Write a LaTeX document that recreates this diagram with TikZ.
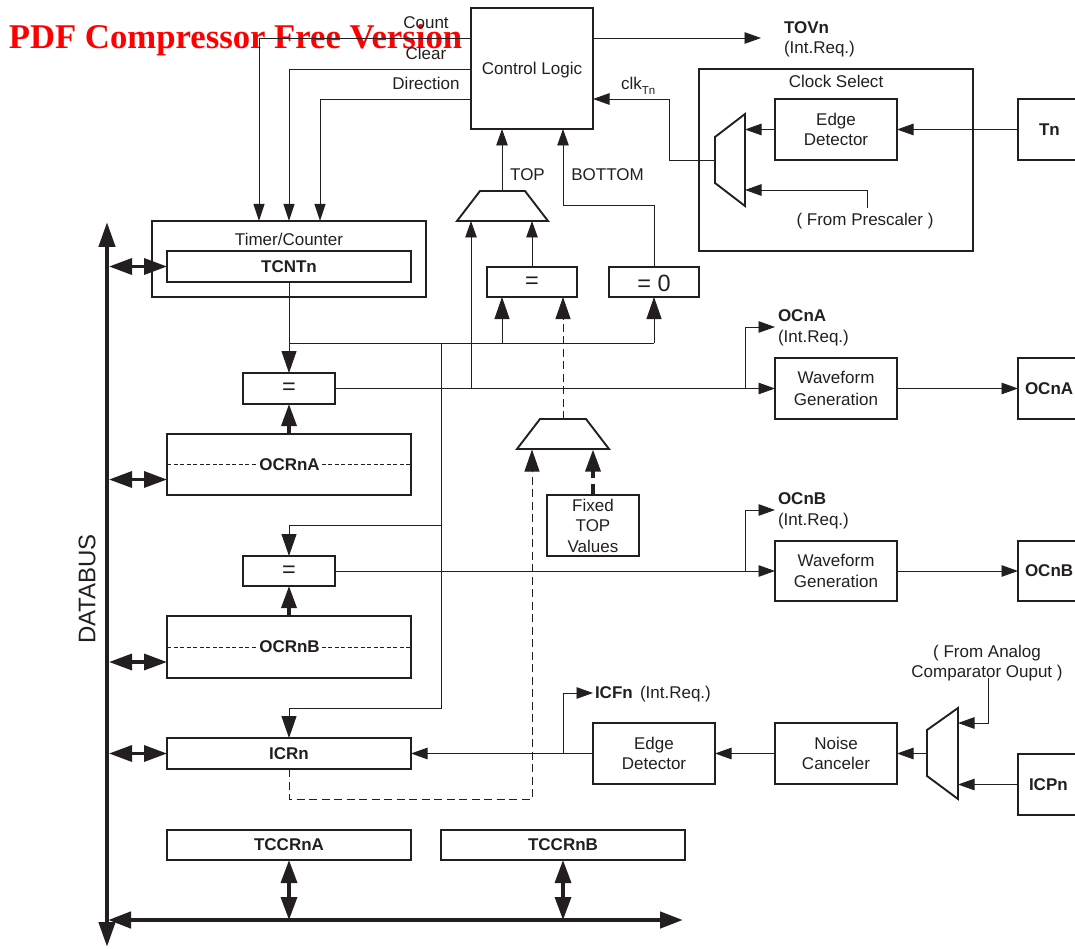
\documentclass[tikz,border=0pt]{standalone}
\usepackage{fontspec}
\setmainfont{Liberation Sans}
\newfontfamily\redfont{Liberation Serif}
\usetikzlibrary{arrows.meta}
\definecolor{ink}{HTML}{231F20}
\tikzset{
  x=1pt,y=-1pt,
  bx/.style={draw=ink,line width=1.9pt,inner sep=0pt,outer sep=0pt,align=center,text=ink,font=\fontsize{17}{20.5}\selectfont},
  lbl/.style={inner sep=0pt,outer sep=0pt,text=ink,font=\fontsize{17}{20.5}\selectfont,align=center},
  boldlbl/.style={lbl,font=\fontsize{17}{20.5}\selectfont\bfseries},
  conn/.style={draw=ink,line width=.95pt},
  sm/.style={conn,-{Triangle[length=16.5pt,width=11.5pt]}},
  bg/.style={conn,-{Triangle[length=22pt,width=15pt]}},
  dsh/.style={draw=ink,line width=1pt,dash pattern=on 8pt off 4.5pt},
  dbl/.style={draw=ink,line width=3.4pt,{Triangle[length=23pt,width=16pt]}-{Triangle[length=23pt,width=16pt]}},
  thk/.style={draw=ink,line width=3.4pt,-{Triangle[length=22pt,width=15pt]}},
  muxs/.style={draw=ink,line width=1.9pt,line join=miter},
  eqs/.style={font=\fontsize{23.5}{23.5}\selectfont,text=ink,inner sep=0pt,outer sep=0pt},
}
\newcommand{\bbox}[6]{\node[bx,minimum width={(#4-#2)*1pt},minimum height={(#5-#3)*1pt}] (#1) at ({(#2+#4)/2},{(#3+#5)/2}) {#6};}
\begin{document}
\begin{tikzpicture}
\useasboundingbox (0,0) rectangle (1075,949);
\clip (0,0) rectangle (1075,949);
% watermark
\node[inner sep=0pt,anchor=base,text=red,font=\redfont\bfseries\fontsize{34.7}{36}\selectfont] (wm) at (235.5,49) {PDF Compressor Free Version};
% boxes
\bbox{ctl}{471}{8}{593}{129}{}
\node[lbl] (lctl) at (532,70) {Control Logic};
\node[draw=ink,line width=1.9pt,inner sep=0pt,outer sep=0pt,minimum width=274pt,minimum height=76pt] (tc) at (289,259) {};
\bbox{tcnt}{167}{251}{411}{282}{\bfseries TCNTn}
\bbox{clksel}{699}{69}{973}{251}{}
\bbox{edge1}{775}{99}{897}{160}{Edge\\Detector}
\bbox{tn}{1018}{99}{1085}{160}{}
\bbox{eqa}{487}{267}{577}{297}{}
\bbox{eqz}{609}{267}{699}{297}{}
\bbox{cmpa}{243}{373}{335}{404}{}
\bbox{ocra}{167}{434}{411}{495}{}
\bbox{cmpb}{243}{556}{335}{586}{}
\bbox{ocrb}{167}{616}{411}{678}{}
\bbox{icr}{167}{738}{411}{769}{\bfseries ICRn}
\bbox{tca}{167}{830}{411}{860}{\bfseries TCCRnA}
\bbox{tcb}{441}{830}{685}{860}{\bfseries TCCRnB}
\bbox{wfa}{775}{358}{897}{419}{\raisebox{1pt}{Waveform}\\Generation}
\bbox{wfb}{775}{541}{897}{601}{\raisebox{1pt}{Waveform}\\Generation}
\bbox{oca}{1018}{358}{1085}{419}{}
\bbox{ocb}{1018}{541}{1085}{601}{}
\bbox{icp}{1018}{754}{1085}{815}{}
\bbox{edge2}{593}{723}{715}{784}{Edge\\Detector}
\bbox{noise}{775}{723}{897}{784}{Noise\\Canceler}
\bbox{fix}{547}{495}{639}{556}{Fixed\\TOP\\Values}
% equal signs
\node[eqs] (leqa) at (532,283) {=};
\node[eqs] (leqz) at (654,283) {= 0};
\node[eqs] (lcmpa) at (289,389) {=};
\node[eqs] (lcmpb) at (289,572) {=};
% multiplexers
\draw[muxs] (480,191) -- (525,191) -- (548,221) -- (457,221) -- cycle;
\draw[muxs] (540,419) -- (586,419) -- (609,449) -- (517,449) -- cycle;
\draw[muxs] (715,137) -- (745,114) -- (745,206) -- (715,183) -- cycle;
\draw[muxs] (927,730) -- (958,708) -- (958,799) -- (927,776) -- cycle;
% labels
\node[boldlbl,anchor=west] (ltn) at (1039,129.5) {Tn};
\node[boldlbl,anchor=west] (loca) at (1025,388.5) {OCnA};
\node[boldlbl,anchor=west] (locb) at (1025,571) {OCnB};
\node[boldlbl,anchor=west] (licp) at (1029,784.5) {ICPn};
\node[lbl] (lcount) at (426,23) {Count};
\node[lbl] (lclear) at (426,53) {Clear};
\node[lbl] (ldir) at (426,83) {Direction};
\node[boldlbl,anchor=west] (ltov) at (784,28) {TOVn};
\node[lbl,anchor=west] (ltovi) at (784,49) {(Int.Req.)};
\node[lbl] (lcs) at (836,81) {Clock Select};
\node[lbl,anchor=base west] (lclk) at (621,90) {clk\raisebox{-4.5pt}{\fontsize{11.5}{12}\selectfont Tn}};
\node[lbl] (ltop) at (527.5,175) {TOP};
\node[lbl] (lbot) at (607.5,175) {BOTTOM};
\node[lbl] (lpre) at (865,221) {( From Prescaler )};
\node[lbl] (ltim) at (289,239) {Timer/Counter};
\node[boldlbl,anchor=west] (lia) at (778,316) {OCnA};
\node[lbl,anchor=west] (liai) at (778,338) {(Int.Req.)};
\node[boldlbl,anchor=west] (lib) at (778,499) {OCnB};
\node[lbl,anchor=west] (libi) at (778,521) {(Int.Req.)};
\node[boldlbl,anchor=west] (licf) at (595,693) {ICFn};
\node[lbl,anchor=west] (licfi) at (640,694) {(Int.Req.)};
\node[lbl] (lana) at (987,663) {( From Analog\\Comparator Ouput )};
\node[lbl,rotate=90,font=\fontsize{24}{24}\selectfont] (ldb) at (87,589) {DATABUS};
\node[boldlbl] (locra) at (289.5,464.5) {OCRnA};
\node[boldlbl] (locrb) at (289.5,647) {OCRnB};
% register dashed lines
\draw[draw=ink,line width=.8pt,dash pattern=on 4pt off 2.5pt] (ocra.west) -- ([xshift=-2pt]locra.west);
\draw[draw=ink,line width=.8pt,dash pattern=on 4pt off 2.5pt] ([xshift=2pt]locra.east) -- (ocra.east);
\draw[draw=ink,line width=.8pt,dash pattern=on 4pt off 2.5pt] (ocrb.west) -- ([xshift=-2pt]locrb.west);
\draw[draw=ink,line width=.8pt,dash pattern=on 4pt off 2.5pt] ([xshift=2pt]locrb.east) -- (ocrb.east);
% control logic outputs
\draw[conn,-{Triangle[length=17pt,width=11pt]}] (ctl.west |- 0,38) -- (259,38) -- (259,221);
\draw[conn,-{Triangle[length=17pt,width=11pt]}] (ctl.west |- 0,69) -- (289,69) -- (tc.north);
\draw[conn,-{Triangle[length=17pt,width=11pt]}] (ctl.west |- 0,99) -- (320,99) -- (320,221);
\draw[sm] (ctl.east |- 0,38) -- (761,38);
% mux and compare to control
\draw[sm] (502,191) -- (502,129);
\draw[sm] (eqz.north) -- (654,205.5) -- (563,205.5) -- (563,129);
\draw[sm] (eqa.north) -- (532,221);
\draw[sm] (471,388.5) -- (471,221);
% clock select
\draw[sm] (715,160) -- (669,160) -- (669,99) -- (ctl.east |- 0,99);
\draw[sm] (edge1.west) -- (745,129.5);
\draw[sm] (867,208) -- (867,190) -- (745,190);
\draw[sm] (tn.west) -- (edge1.east);
% TCNT bus
\coordinate (jt) at (289,343);
\draw[conn] (tcnt.south) -- (jt) -- (654,343);
\draw[bg] (jt) -- (cmpa.north);
\draw[bg] (502,343) -- (502,297);
\draw[bg] (654,343) -- (eqz.south);
\draw[conn] (441,343) -- (441,708) -- (289,708);
\draw[bg] (289,708) -- (icr.north);
\draw[bg] (441,525) -- (289,525) -- (cmpb.north);
% compare outputs
\draw[sm] (cmpa.east) -- (wfa.west);
\draw[sm] (745,388.5) -- (745,327) -- (775,327);
\draw[sm] (cmpb.east) -- (wfb.west);
\draw[sm] (745,571) -- (745,510) -- (775,510);
\draw[sm] (wfa.east) -- (oca.west);
\draw[sm] (wfb.east) -- (ocb.west);
% input capture
\draw[sm] (icp.west) -- (958,784.5);
\draw[sm] (988,678) -- (988,723) -- (958,723);
\draw[sm] (927,753.5) -- (noise.east);
\draw[sm] (noise.west) -- (edge2.east);
\draw[sm] (edge2.west) -- (icr.east);
\draw[sm] (563,753.5) -- (563,693) -- (593,693);
% dashed
\draw[dsh] (icr.south) -- (289,799) -- (532,799) -- (532,472);
\draw[draw=ink,line width=1pt,-{Triangle[length=22pt,width=15pt]}] (532,472) -- (532,449.5);
\draw[dsh] (563,419) -- (563,319);
\draw[draw=ink,line width=1pt,-{Triangle[length=22pt,width=15pt]}] (563,319) -- (563,297);
\draw[draw=ink,line width=3.4pt,dash pattern=on 11pt off 6pt on 20pt,-{Triangle[length=22pt,width=15pt]}] (fix.north -| 593,0) -- (593,449.5);
% thick register links
\draw[thk] (ocra.north) -- (cmpa.south);
\draw[thk] (ocrb.north) -- (cmpb.south);
% bus
\draw[draw=ink,line width=4.4pt,{Triangle[length=25pt,width=16pt]}-{Triangle[length=25pt,width=16pt]}] (107,222) -- (107,947);
\draw[draw=ink,line width=4.4pt,{Triangle[length=23pt,width=16pt]}-{Triangle[length=23pt,width=16pt]}] (108,920) -- (683,920);
\draw[dbl] (109,266.5) -- (tcnt.west);
\draw[dbl] (109,479.5) -- (167,479.5);
\draw[dbl] (109,662) -- (167,662);
\draw[dbl] (109,753.5) -- (icr.west);
\draw[dbl] (tca.south) -- (289,920);
\draw[dbl] (tcb.south -| 563,0) -- (563,920);
\end{tikzpicture}
\end{document}
